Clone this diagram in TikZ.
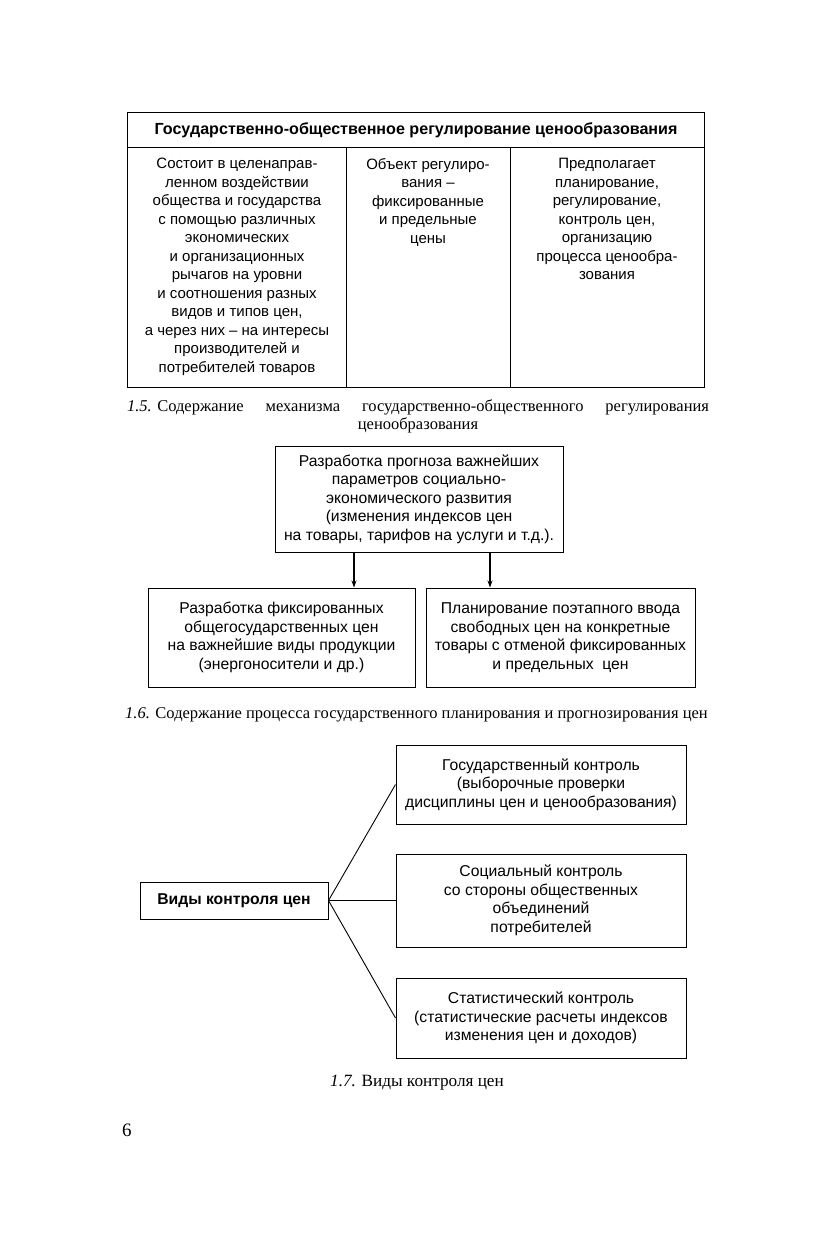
\documentclass[tikz,border=0pt]{standalone}
\usepackage{fontspec}
\setmainfont{Liberation Serif}
\setsansfont{Liberation Sans}
\usetikzlibrary{positioning, arrows.meta}

\begin{document}
\begin{tikzpicture}[
    x=1pt, y=-1pt,
    font=\sffamily\fontsize{15.7}{18.5}\selectfont,
    box/.style={draw, rectangle, align=center, inner sep=0pt, line width=1pt},
    cell/.style={anchor=north, align=center, inner sep=0pt,
                 font=\sffamily\fontsize{15}{18.5}\selectfont},
    arr/.style={-{Stealth[length=7pt, width=5pt]}, line width=1.1pt},
    link/.style={line width=0.9pt},
    capt/.style={font=\rmfamily\fontsize{16.5}{18}\selectfont, align=center, inner sep=0pt},
  ]
  \useasboundingbox (0,0) rectangle (815,1241);

  %% ================================================================
  %% Fig. 1.5: table
  %% ================================================================
  \draw[line width=1pt] (127,113) rectangle (704,387);
  \draw[line width=1pt] (127,148) -- (704,148);
  \draw[line width=1pt] (346,148) -- (346,387);
  \draw[line width=1pt] (510,148) -- (510,387);

  \node[inner sep=0pt, font=\sffamily\bfseries\fontsize{16.1}{18.5}\selectfont] (head) at (416,130.5)
    {Государственно-общественное регулирование ценообразования};

  \node[cell] (colA) at (237,158)
    {Состоит в целенаправ-\\ленном воздействии\\общества и государства\\с помощью различных\\экономических\\и организационных\\рычагов на уровни\\и соотношения разных\\видов и типов цен,\\а через них -- на интересы\\производителей и\\потребителей товаров};
  \node[cell] (colB) at (428,158)
    {Объект регулиро-\\вания --\\фиксированные\\и предельные\\цены};
  \node[cell] (colC) at (607,158)
    {Предполагает\\планирование,\\регулирование,\\контроль цен,\\организацию\\процесса ценообра-\\зования};

  \node[capt] (cap5) at (418,416)
    {\hbox to 582pt{\textit{1.5.} Содержание\hfill механизма\hfill государственно-общественного\hfill регулирования}\\ценообразования};

  %% ================================================================
  %% Fig. 1.6: forecasting
  %% ================================================================
  \node[box, minimum width=288pt, minimum height=106pt] (prog) at (419,499)
    {Разработка прогноза важнейших\\параметров социально-\\экономического развития\\(изменения индексов цен\\на товары, тарифов на услуги и т.д.).};
  \node[box, minimum width=267pt, minimum height=99pt] (fix) at (281.5,637.5)
    {Разработка фиксированных\\общегосударственных цен\\на важнейшие виды продукции\\(энергоносители и др.)};
  \node[box, minimum width=269pt, minimum height=99pt] (free) at (560.5,637.5)
    {Планирование поэтапного ввода\\свободных цен на конкретные\\товары с отменой фиксированных\\и предельных~ цен};

  \draw[arr] ([xshift=-65pt]prog.south) -- ([xshift=-65pt]prog.south |- fix.north);
  \draw[arr] ([xshift=71pt]prog.south) -- ([xshift=71pt]prog.south |- free.north);

  \node[capt] (cap6) at (416.5,715)
    {\textit{1.6.} Содержание процесса государственного планирования и прогнозирования цен};

  %% ================================================================
  %% Fig. 1.7: kinds of control
  %% ================================================================
  \node[box, minimum width=188pt, minimum height=37pt,
        font=\sffamily\bfseries\fontsize{15.7}{18.5}\selectfont] (kinds) at (234,900.5)
    {Виды контроля цен};

  \node[box, minimum width=290pt, minimum height=79pt] (gov) at (541,784.5)
    {Государственный контроль\\(выборочные проверки\\дисциплины цен и ценообразования)};
  \node[box, minimum width=290pt, minimum height=93pt] (soc) at (541,900.5)
    {Социальный контроль\\со стороны общественных\\объединений\\потребителей};
  \node[box, minimum width=290pt, minimum height=80pt] (stat) at (541,1018)
    {Статистический контроль\\(статистические расчеты индексов\\изменения цен и доходов)};

  \draw[link] (kinds.east) -- (gov.west);
  \draw[link] (kinds.east) -- (soc.west);
  \draw[link] (kinds.east) -- (stat.west);

  \node[capt, font=\rmfamily\fontsize{17.2}{18}\selectfont] (cap7) at (417,1083)
    {\textit{1.7.} Виды контроля цен};

  \node[capt, anchor=west, font=\rmfamily\fontsize{19}{20}\selectfont] (page) at (122,1130) {6};
\end{tikzpicture}
\end{document}
